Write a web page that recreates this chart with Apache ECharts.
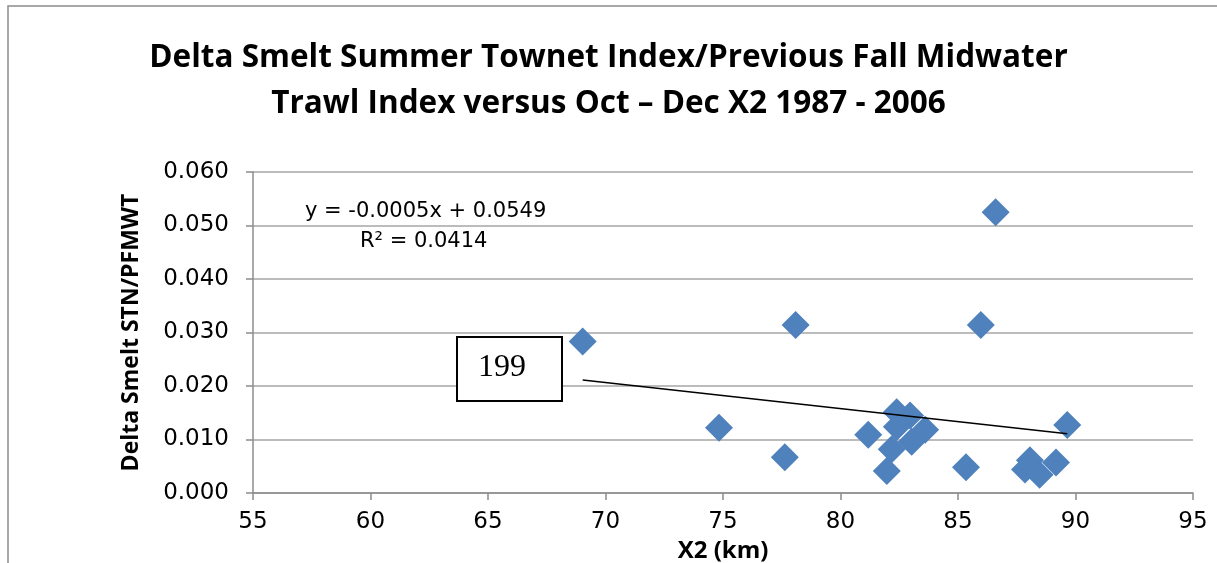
<!DOCTYPE html>
<html>
<head>
<meta charset="utf-8">
<script src="https://cdn.jsdelivr.net/npm/echarts@6/dist/echarts.min.js"></script>
<style>
html, body { margin: 0; padding: 0; background: #fff; }
#chart { width: 1217px; height: 563px; }
</style>
</head>
<body>
<div id="chart"></div>
<script>
// X2 position (km), Oct-Dec, 1987-2006
var x2 = [69.03, 74.83, 77.63, 78.09, 85.97, 86.6, 85.34, 88.06, 87.85, 88.47,
          89.17, 89.65, 81.18, 82.39, 82.96, 82.4, 83.6, 83.03, 82.18, 81.97];
// summer townet index / previous fall midwater trawl index
var stnRatio = [0.0283, 0.0122, 0.0067, 0.0314, 0.0314, 0.0525, 0.0048, 0.0061, 0.0044, 0.0034,
                0.0057, 0.0127, 0.0109, 0.0151, 0.0145, 0.0124, 0.0118, 0.0096, 0.0082, 0.0041];

var xTicks = [55, 95, 5];
var yTicks = [0, 0.06, 0.01];

var points = [];
for (var i = 0; i < x2.length; i++) {
    points.push([x2[i], stnRatio[i]]);
}

// least squares trend line
var n = x2.length, sx = 0, sy = 0, sxx = 0, sxy = 0;
for (var i = 0; i < n; i++) {
    sx += x2[i]; sy += stnRatio[i];
    sxx += x2[i] * x2[i]; sxy += x2[i] * stnRatio[i];
}
var slope = (n * sxy - sx * sy) / (n * sxx - sx * sx);
var icept = (sy - slope * sx) / n;
var xmin = Math.min.apply(null, x2), xmax = Math.max.apply(null, x2);
var trend = [[xmin, slope * xmin + icept], [xmax, slope * xmax + icept]];

var narrow = '"Open Sans", sans-serif';
var plain = '"DejaVu Sans", sans-serif';
var gray = '#8c8c8c';

var myChart = echarts.init(document.getElementById('chart'));
var option = {
    backgroundColor: '#fff',
    animation: false,
    title: {
        text: 'Delta Smelt Summer Townet Index/Previous Fall Midwater\nTrawl Index versus Oct \u2013 Dec X2 1987 - 2006',
        left: 'center',
        top: 30,
        textStyle: {
            fontFamily: narrow, fontWeight: 'bold', fontSize: 31.5,
            lineHeight: 46, color: '#000'
        }
    },
    grid: { left: 253, right: 24, top: 172, bottom: 70, outerBoundsMode: 'none' },
    xAxis: {
        type: 'value',
        min: xTicks[0], max: xTicks[1], interval: xTicks[2],
        name: 'X2 (km)',
        nameLocation: 'middle',
        nameGap: 35,
        nameTextStyle: { fontFamily: narrow, fontWeight: 'bold', fontSize: 24, color: '#000' },
        axisLine: { lineStyle: { color: gray, width: 1.5 } },
        axisTick: { show: true, length: 7, lineStyle: { color: gray, width: 1.5 } },
        axisLabel: { margin: 18, fontFamily: plain, fontSize: 23, color: '#000' },
        splitLine: { show: false }
    },
    yAxis: {
        type: 'value',
        min: yTicks[0], max: yTicks[1], interval: yTicks[2],
        name: 'Delta Smelt STN/PFMWT',
        nameLocation: 'middle',
        nameGap: 110,
        nameRotate: 90,
        nameTextStyle: { fontFamily: narrow, fontWeight: 'bold', fontSize: 23, color: '#000' },
        axisLine: { show: true, lineStyle: { color: gray, width: 1.5 } },
        axisTick: { show: true, length: 7, lineStyle: { color: gray, width: 1.5 } },
        axisLabel: {
            margin: 24, fontFamily: plain, fontSize: 23, color: '#000',
            formatter: function (v) { return v.toFixed(3); }
        },
        splitLine: { lineStyle: { color: '#a6a6a6', width: 1.5 } }
    },
    series: [
        {
            type: 'line',
            data: trend,
            symbol: 'none',
            lineStyle: { color: '#000', width: 1.5 },
            z: 3
        },
        {
            type: 'scatter',
            data: points,
            symbol: 'diamond',
            symbolSize: [28, 28],
            itemStyle: { color: '#4f81bd', opacity: 1 },
            z: 2
        }
    ],
    graphic: [
        {
            type: 'rect',
            shape: { x: 8, y: 6, width: 1400, height: 800 },
            style: { fill: 'none', stroke: gray, lineWidth: 1.5 },
            silent: true
        },
        {
            type: 'text', left: 305, top: 201, z: 10,
            style: { text: 'y = -0.0005x + 0.0549', font: '21px "DejaVu Sans"', fill: '#000' }
        },
        {
            type: 'text', left: 360, top: 231, z: 10,
            style: { text: 'R\u00b2 = 0.0414', font: '21px "DejaVu Sans"', fill: '#000' }
        },
        {
            type: 'rect', z: 10,
            shape: { x: 457, y: 337, width: 105, height: 64 },
            style: { fill: '#fff', stroke: '#000', lineWidth: 2 }
        },
        {
            type: 'text', z: 11,
            x: 502, y: 368,
            style: {
                text: '199', font: '32px "Liberation Serif"', fill: '#000',
                align: 'center', verticalAlign: 'middle'
            }
        }
    ]
};
myChart.setOption(option);
</script>
</body>
</html>
